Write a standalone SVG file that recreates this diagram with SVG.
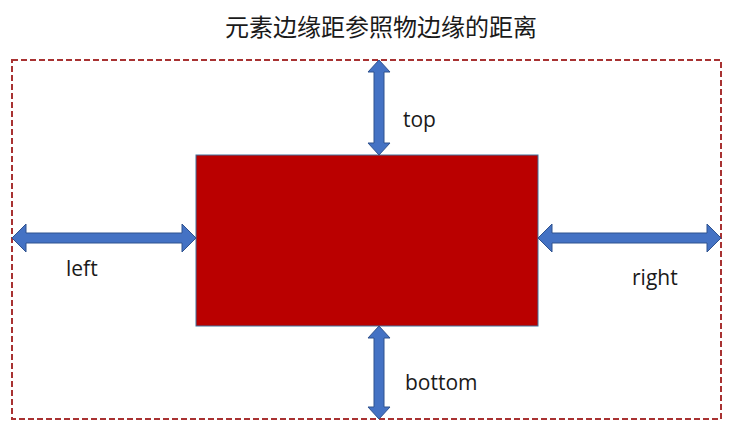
<svg xmlns="http://www.w3.org/2000/svg" width="736" height="431" viewBox="0 0 736 431">
<style>
.lbl{font-family:"Open Sans","Liberation Sans",sans-serif;font-size:21px;fill:#1a1a1a}
.title{font-family:"Noto Sans CJK SC","Noto Sans",sans-serif;font-size:24px;fill:#1a1a1a}
.arr{fill:#4472C4;stroke:#2F528F;stroke-width:1}
</style>
<rect width="736" height="431" fill="#ffffff"/>
<text class="title" x="381" y="36" text-anchor="middle">元素边缘距参照物边缘的距离</text>
<g id="reference-box">
<rect x="12" y="60" width="709" height="359" fill="none" stroke="#A83232" stroke-width="2" stroke-dasharray="6,3"/>
</g>
<g id="element">
<rect x="196" y="155" width="342" height="171" fill="#BA0000" stroke="#41719C" stroke-width="1"/>
</g>
<g id="connectors">
<path id="arrow-left" class="arr" d="M12,238 L26,224 L26,233 L182,233 L182,224 L196,238 L182,252 L182,243 L26,243 L26,252 Z"/>
<path id="arrow-right" class="arr" d="M538,238 L552,224 L552,233 L707,233 L707,224 L721,238 L707,252 L707,243 L552,243 L552,252 Z"/>
<path id="arrow-top" class="arr" d="M379,60 L390,72 L384,72 L384,143 L390,143 L379,155 L368,143 L374,143 L374,72 L368,72 Z"/>
<path id="arrow-bottom" class="arr" d="M379,326 L390,338 L384,338 L384,407 L390,407 L379,419 L368,407 L374,407 L374,338 L368,338 Z"/>
</g>
<g id="labels">
<text class="lbl" x="403" y="127">top</text>
<text class="lbl" x="66" y="276">left</text>
<text class="lbl" x="632" y="285">right</text>
<text class="lbl" x="405" y="390">bottom</text>
</g>
</svg>
